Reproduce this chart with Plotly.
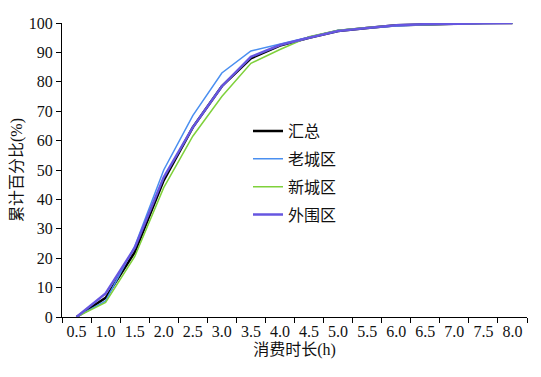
import plotly.graph_objects as go

categories = ["0.5", "1.0", "1.5", "2.0", "2.5", "3.0", "3.5", "4.0",
              "4.5", "5.0", "5.5", "6.0", "6.5", "7.0", "7.5", "8.0"]
total = [0, 6.5, 22, 46.5, 64.5, 78.5, 88, 92.3, 95, 97.3, 98.3, 99.2, 99.5, 99.8, 100, 100]
old_city = [0, 5.5, 24, 50, 68.5, 83, 90.5, 92.8, 95, 97.5, 98.3, 99, 99.4, 99.7, 100, 100]
new_city = [0, 5, 20.5, 44, 61.5, 75, 86.3, 91, 95.3, 97.5, 98.5, 99.2, 99.4, 99.6, 99.9, 100]
outer = [0, 8, 23.5, 47.5, 64.5, 78.5, 88.5, 92.5, 95, 97.3, 98.3, 99.2, 99.6, 99.8, 100, 100]

series = [
    ("汇总", total, "#000000", 2.5),
    ("老城区", old_city, "#4a8ff0", 1.5),
    ("新城区", new_city, "#7fd13b", 1.5),
    ("外围区", outer, "#6656e0", 2.5),
]

font_family = "Liberation Serif, Noto Sans CJK SC, serif"

fig = go.Figure()
for i, (name, vals, color, w) in enumerate(series):
    fig.add_trace(go.Scatter(
        x=categories, y=vals, mode="lines", name=name,
        line=dict(color=color, width=w), legendgroup=f"g{i}",
    ))

fig.update_layout(
    width=533, height=369,
    margin=dict(l=54, r=14, t=15, b=60, autoexpand=False),
    paper_bgcolor="white", plot_bgcolor="white",
    font=dict(family=font_family, size=15, color="#111"),
    showlegend=True,
    legend=dict(x=0.40, y=0.69, xanchor="left", yanchor="top",
                bgcolor="rgba(0,0,0,0)", font=dict(size=16),
                traceorder="grouped", tracegroupgap=4),
    xaxis=dict(
        type="category", range=[-0.5, 15.5], automargin=False,
        showline=True, linecolor="black", linewidth=1,
        ticks="outside", ticklen=5, tickcolor="black", tickson="boundaries",
        showgrid=False, zeroline=False, tickangle=0,
        title=dict(text="消费时长(h)", font=dict(size=16), standoff=4),
        tickfont=dict(size=16),
    ),
    yaxis=dict(
        range=[0, 100], dtick=10, automargin=False,
        showline=True, linecolor="black", linewidth=1,
        ticks="outside", ticklen=5, tickcolor="black",
        showgrid=False, zeroline=False,
        title=dict(text="累计百分比(%)", font=dict(size=16), standoff=4),
        tickfont=dict(size=16),
    ),
)

fig.write_html("out.html")
